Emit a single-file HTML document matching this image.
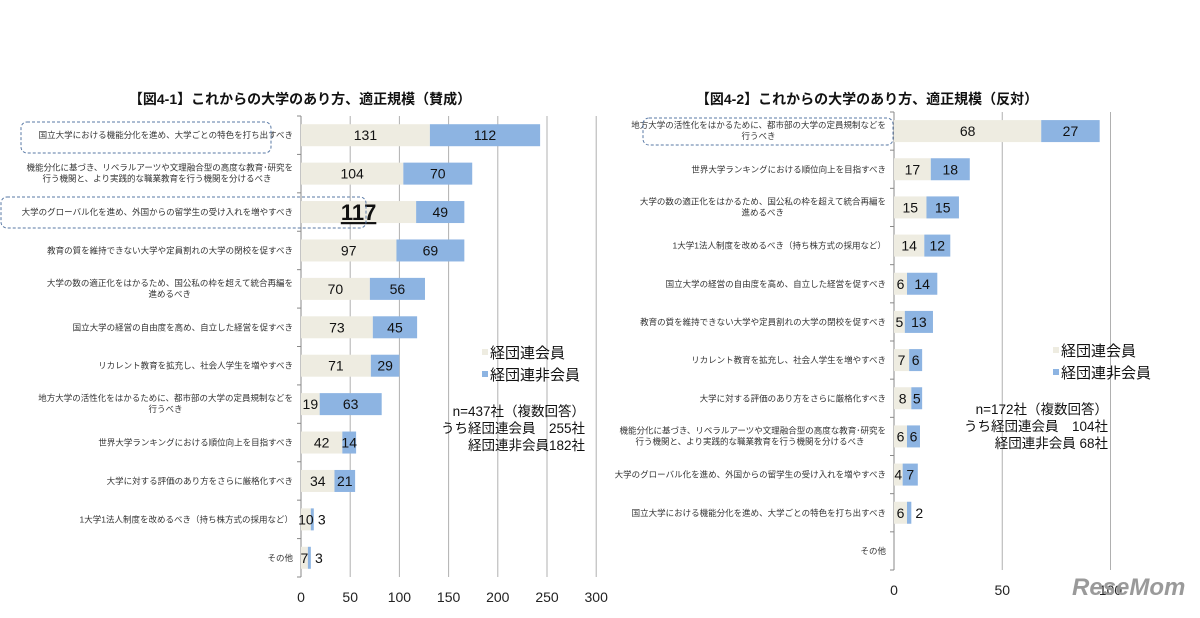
<!DOCTYPE html>
<html><head><meta charset="utf-8">
<style>
html,body{margin:0;padding:0;background:#fff;}
body{width:1200px;height:613px;overflow:hidden;font-family:"Liberation Sans","Noto Sans CJK JP",sans-serif;}
svg text{font-family:"Liberation Sans","Noto Sans CJK JP",sans-serif;}
</style></head>
<body>
<svg id="chart" width="1200" height="613" xmlns="http://www.w3.org/2000/svg"></svg>
<script>
const leftCats = ["国立大学における機能分化を進め、大学ごとの特色を打ち出すべき","機能分化に基づき、リベラルアーツや文理融合型の高度な教育･研究を|行う機関と、より実践的な職業教育を行う機関を分けるべき","大学のグローバル化を進め、外国からの留学生の受け入れを増やすべき","教育の質を維持できない大学や定員割れの大学の閉校を促すべき","大学の数の適正化をはかるため、国公私の枠を超えて統合再編を|進めるべき","国立大学の経営の自由度を高め、自立した経営を促すべき","リカレント教育を拡充し、社会人学生を増やすべき","地方大学の活性化をはかるために、都市部の大学の定員規制などを|行うべき","世界大学ランキングにおける順位向上を目指すべき","大学に対する評価のあり方をさらに厳格化すべき","1大学1法人制度を改めるべき（持ち株方式の採用など）","その他"];
const leftMember = [131,104,117,97,70,73,71,19,42,34,10,7];
const leftNonMember = [112,70,49,69,56,45,29,63,14,21,3,3];
const leftTicks = [0,50,100,150,200,250,300];
const rightCats = ["地方大学の活性化をはかるために、都市部の大学の定員規制などを|行うべき","世界大学ランキングにおける順位向上を目指すべき","大学の数の適正化をはかるため、国公私の枠を超えて統合再編を|進めるべき","1大学1法人制度を改めるべき（持ち株方式の採用など）","国立大学の経営の自由度を高め、自立した経営を促すべき","教育の質を維持できない大学や定員割れの大学の閉校を促すべき","リカレント教育を拡充し、社会人学生を増やすべき","大学に対する評価のあり方をさらに厳格化すべき","機能分化に基づき、リベラルアーツや文理融合型の高度な教育･研究を|行う機関と、より実践的な職業教育を行う機関を分けるべき","大学のグローバル化を進め、外国からの留学生の受け入れを増やすべき","国立大学における機能分化を進め、大学ごとの特色を打ち出すべき","その他"];
const rightMember = [68,17,15,14,6,5,7,8,6,4,6,null];
const rightNonMember = [27,18,15,12,14,13,6,5,6,7,2,null];
const rightTicks = [0,50,100];

const NS="http://www.w3.org/2000/svg";
const svg=document.getElementById('chart');
function mk(tag,attrs,parent){const e=document.createElementNS(NS,tag);for(const k in attrs)e.setAttribute(k,attrs[k]);(parent||svg).appendChild(e);return e;}
function txt(s,attrs,parent){const e=mk('text',attrs,parent);e.textContent=s;return e;}
function textW(s){return s.length*8.5;}

function drawChart(cfg){
  const g=mk('g',{});
  
  
  const xs=v=>cfg.x0+v*cfg.k;
  const n=cfg.cats.length, band=(cfg.bottom-cfg.top)/n;
  const yc=i=>cfg.top+band*(i+0.5);
  cfg.ticks.forEach(t=>{
    const l=mk('line',{x1:xs(t),x2:xs(t),y1:cfg.top,y2:cfg.bottom,stroke:t===0?'#888':'#b0b0b0','stroke-width':1},g);
    
    
    const tl=txt(String(t),{x:xs(t),y:cfg.bottom+25,'text-anchor':'middle','font-size':14,fill:'#222'},g);
    
    
  });
  for(let i=0;i<=n;i++){mk('line',{x1:cfg.x0-4,x2:cfg.x0,y1:cfg.top+band*i,y2:cfg.top+band*i,stroke:'#888'},g);}
  cfg.cats.forEach((c,i)=>{
    const parts=c.split('|');
    const t=txt('',{x:cfg.x0-8,y:yc(i)+(parts.length>1?-3:3),'text-anchor':'end','font-size':8.5,fill:'#333'},g);
    
    
    parts.forEach((p,j)=>{const s=mk('tspan',{x:cfg.x0-8,dy:j?11:0},t);s.textContent=p;if(j==1){s.setAttribute('text-anchor','middle');s.setAttribute('x',cfg.x0-8-textW(parts[0])/2);}});
    const m=cfg.member[i], nm=cfg.non[i];
    if(m==null)return;
    const bh=22;
    const r1=mk('rect',{x:xs(0),y:yc(i)-bh/2,width:xs(m)-xs(0),height:bh,fill:'#eeece1'},g);
    
    
    const r2=mk('rect',{x:xs(m),y:yc(i)-bh/2,width:xs(m+nm)-xs(m),height:bh,fill:'#8db4e2'},g);
    
    
    const big=cfg.bigIndex===i;
    const w2=xs(m+nm)-xs(m);
    const l1=txt(String(m),{x:xs(m/2),y:yc(i)+(big?8:5),'text-anchor':'middle','font-size':big?22:14,'font-weight':big?'bold':'normal','text-decoration':big?'underline':'none',fill:'#111'},g);
    
    
    const x2=w2<8?xs(m+nm)+8:xs(m+nm/2);
    const l2=txt(String(nm),{x:x2,y:yc(i)+5,'text-anchor':'middle','font-size':14,fill:'#111'},g);
    
    
  });
}

drawChart({name:'left-chart',cats:leftCats,member:leftMember,non:leftNonMember,ticks:leftTicks,x0:301,k:0.984,top:116,bottom:577,bigIndex:2});
drawChart({name:'right-chart',cats:rightCats,member:rightMember,non:rightNonMember,ticks:rightTicks,x0:894,k:2.165,top:112,bottom:570,bigIndex:-1});

let e=txt('【図4-1】これからの大学のあり方、適正規模（賛成）',{x:300,y:104,'text-anchor':'middle','font-size':14,'font-weight':'bold',fill:'#111'});


e=txt('【図4-2】これからの大学のあり方、適正規模（反対）',{x:867,y:104,'text-anchor':'middle','font-size':14,'font-weight':'bold',fill:'#111'});



[[21,122,250,31],[1,197,365,31],[643,118,250,27]].forEach(b=>{
  const r=mk('rect',{x:b[0],y:b[1],width:b[2],height:b[3],rx:6,fill:'none',stroke:'#5a7aa6','stroke-dasharray':'3,2','stroke-width':1});
  
  
});

function legend(x,y,name){
  const g=mk('g',{});
  
  
  mk('rect',{x:x,y:y-9,width:6,height:6,fill:'#eeece1'},g);
  txt('経団連会員',{x:x+8,y:y,'font-size':15,fill:'#111'},g);
  mk('rect',{x:x,y:y+13,width:6,height:6,fill:'#8db4e2'},g);
  txt('経団連非会員',{x:x+8,y:y+22,'font-size':15,fill:'#111'},g);
}
legend(482,358,'left-legend');
legend(1053,356,'right-legend');

function note(xr,y,lines,name){
  const g=mk('g',{});
  
  
  lines.forEach((l,i)=>txt(l,{x:xr,y:y+i*17,'text-anchor':'end','font-size':13.5,fill:'#111'},g));
}
note(585,416,['n=437社（複数回答）','うち経団連会員　255社','経団連非会員182社'],'left-sample-note');
note(1108,414,['n=172社（複数回答）','うち経団連会員　104社','経団連非会員  68社'],'right-sample-note');

e=txt('ReseMom',{x:1072,y:595,'font-size':24,'font-weight':'bold',fill:'#9a9a9a','font-style':'italic'});


</script>
</body></html>
